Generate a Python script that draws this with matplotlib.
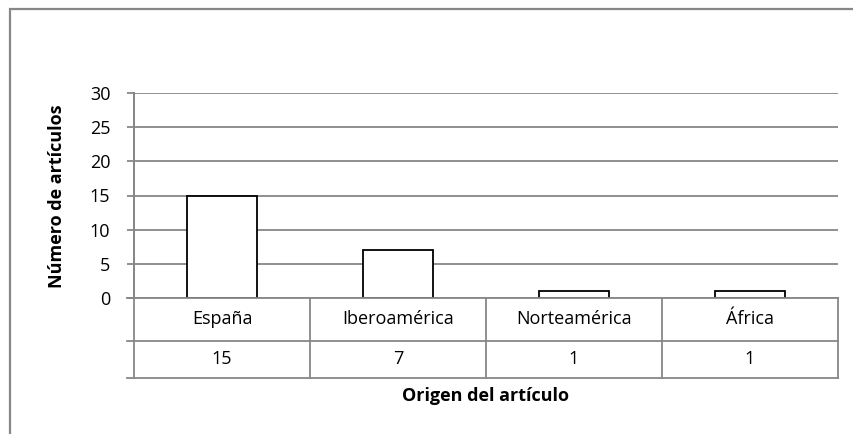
import matplotlib.pyplot as plt
from matplotlib.transforms import blended_transform_factory

categorias = ['España', 'Iberoamérica', 'Norteamérica', 'África']
articulos = [15, 7, 1, 1]
yticks = [0, 5, 10, 15, 20, 25, 30]

W, H = 854, 434
GRAY = '#878787'
FS = 13

plt.rcParams['font.family'] = ['Open Sans', 'DejaVu Sans']

fig = plt.figure(figsize=(W / 100, H / 100), dpi=100)

# chart frame (only top and left edges fall inside the picture)
fig.add_artist(plt.Rectangle((10 / W, -0.1), 1.2, 1.1 - 9.5 / H, transform=fig.transFigure,
                             fill=False, edgecolor=GRAY, lw=1.6))

# plot area in pixels
x0, x1, ytop, ybot = 134, 838, 93, 298
ax = fig.add_axes([x0 / W, 1 - ybot / H, (x1 - x0) / W, (ybot - ytop) / H])

x = list(range(len(categorias)))
ax.bar(x, articulos, width=0.4, color='white', edgecolor='black', lw=1.3, zorder=3)
ax.set_xlim(-0.5, len(categorias) - 0.5)
ax.set_ylim(0, 30)
ax.set_yticks(yticks)
ax.set_xticks([])
ax.yaxis.grid(True, color=GRAY, lw=1.3)
ax.set_axisbelow(True)
for s in ['top', 'right', 'bottom']:
    ax.spines[s].set_visible(False)
ax.spines['left'].set_color(GRAY)
ax.spines['left'].set_linewidth(1.3)
ax.tick_params(axis='y', length=5, width=1.3, color=GRAY, labelsize=FS, pad=12)

# data table below the axis
ah = ybot - ytop
r1 = -(341 - ybot) / ah
r2 = -(378 - ybot) / ah
tick = -0.5 - 7 / (x1 - x0) * len(categorias)
tr = blended_transform_factory(ax.transData, ax.transAxes)
for yy in [0, r1, r2]:
    ax.plot([tick, len(categorias) - 0.5], [yy, yy], transform=tr, color=GRAY, lw=1.3,
            clip_on=False, zorder=4)
for i in range(len(categorias) + 1):
    ax.plot([i - 0.5, i - 0.5], [0 if i else 1, r2], transform=tr, color=GRAY, lw=1.3,
            clip_on=False, zorder=4)
for i, (c, v) in enumerate(zip(categorias, articulos)):
    ax.text(i, r1 / 2, c, transform=tr, ha='center', va='center', fontsize=FS)
    ax.text(i, (r1 + r2) / 2, str(v), transform=tr, ha='center', va='center', fontsize=FS)

fig.text(486 / W, 1 - 396 / H, 'Origen del artículo', ha='center', va='center',
         fontsize=FS, fontweight='bold')
fig.text(57 / W, 1 - 196 / H, 'Número de artículos', ha='center', va='center',
         rotation=90, fontsize=FS, fontweight='bold')

fig.savefig('out.png', dpi=100)
